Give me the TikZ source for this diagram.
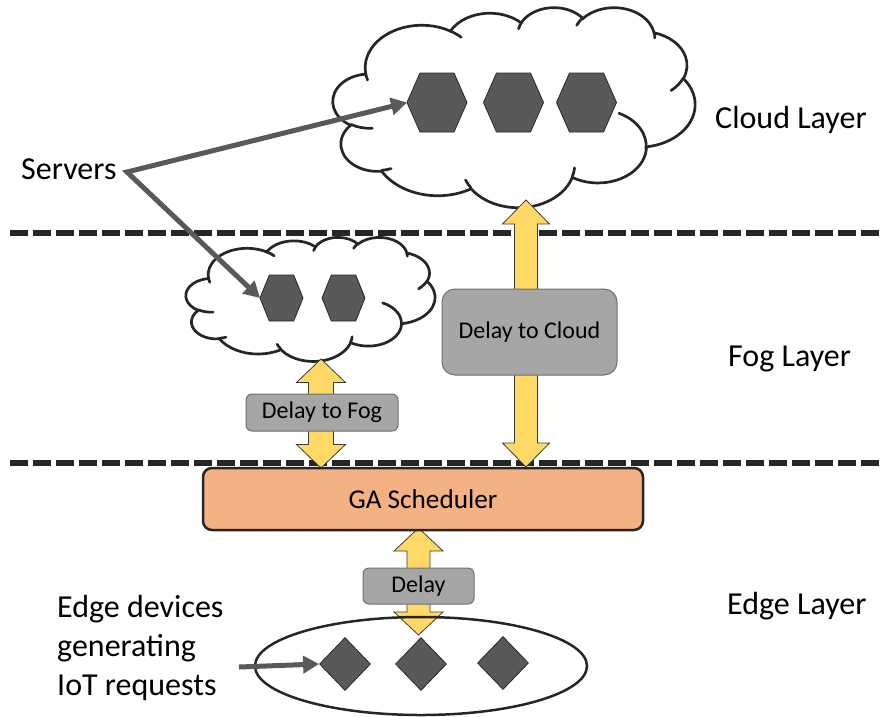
\documentclass[tikz,border=0pt]{standalone}
\usepackage{fontspec}
\setmainfont{Carlito}
\usetikzlibrary{shapes.geometric,arrows.meta}
\definecolor{dk}{HTML}{262626}
\definecolor{srv}{HTML}{595959}
\definecolor{yel}{HTML}{FFD966}
\definecolor{gbox}{HTML}{A6A6A6}
\definecolor{gboxb}{HTML}{6E6E6E}
\definecolor{ora}{HTML}{F4B183}
\tikzset{
  layerline/.style={draw=dk, line width=5.5pt, dash pattern=on 18pt off 5pt},
  cloudline/.style={draw=dk, line width=2.7pt, line cap=round},
  hexshape/.style={fill=srv, draw=dk, line width=0.8pt},
  devshape/.style={diamond, fill=srv, draw=dk, line width=0.8pt, minimum width=51pt, minimum height=53pt, inner sep=0pt},
  dblarrow/.style={fill=yel, draw=dk!90, line width=0.8pt, line join=miter},
  delaybox/.style={fill=gbox, draw=gboxb, line width=1pt, font=\fontsize{24}{29}\selectfont, text=black},
  schedbox/.style={fill=ora, draw=dk, line width=2.5pt, rounded corners=9pt, font=\fontsize{27.2}{32}\selectfont, text=black},
  bigtext/.style={font=\fontsize{32}{39}\selectfont, text=black, inner sep=0pt},
  ptr/.style={draw=srv, line width=5pt, line join=miter},
}
\makeatletter
% name, wR, hR, start angle (geometric), sweep
\newcommand\defarc[5]{%
  \pgfmathsetmacro\ca@ta{atan2((#2)*sin(#4),(#3)*cos(#4))}%
  \pgfmathsetmacro\ca@tb{atan2((#2)*sin(#4+#5),(#3)*cos(#4+#5))}%
  \pgfmathsetmacro\ca@d{mod(\ca@tb-\ca@ta+720,360)}%
  \pgfmathsetmacro\ca@te{\ca@ta+\ca@d}%
  \expandafter\xdef\csname cldarc#1\endcsname{arc[x radius=#2, y radius=#3, start angle=\ca@ta, end angle=\ca@te]}%
}
\makeatother
\defarc{A}{67.53}{91.90}{-190.48748}{123.78053}
\defarc{B}{53.33}{72.67}{-144.10238}{89.94523}
\defarc{C}{43.65}{59.45}{-145.80792}{99.72302}
\defarc{D}{48.57}{65.95}{-130.98607}{117.24173}
\defarc{E}{53.33}{72.73}{-78.70888}{109.02692}
\defarc{F}{67.75}{92.20}{-46.26725}{130.269}
\defarc{G}{57.85}{78.67}{0.62502}{114.03333}
\defarc{H}{67.52}{92.15}{22.4516}{115.17255}
\defarc{I}{77.20}{105.43}{66.24263}{75.71102}
\defarc{J}{43.60}{59.18}{-274.94208}{146.73557}
\defarc{K}{43.45}{59.45}{-246.8285}{152.51885}
\defarc{L}{43.45}{59.45}{86.742}{26.4295}
\defarc{M}{43.60}{59.18}{73.6105}{11.4475}
\defarc{N}{67.52}{92.15}{137.6242}{14.0811}
\defarc{O}{67.52}{92.15}{6.4533}{15.9984}
\defarc{P}{57.85}{78.67}{-70.2924}{77.029}
\defarc{Q}{53.33}{72.73}{30.3180}{27.7515}
\defarc{R}{48.57}{65.95}{-13.7443}{14.8507}
\defarc{S}{48.57}{65.95}{-149.1815}{18.1954}
\defarc{T}{43.65}{59.45}{-163.4943}{17.6864}
\defarc{U}{67.53}{91.90}{-66.7070}{12.3194}
\defarc{V}{67.53}{91.90}{157.6544}{11.8582}
\newcommand\drawcloud{%
  \draw[cloudline, fill=white] (39,143.7) \cldarcA \cldarcB \cldarcC \cldarcD \cldarcE \cldarcF \cldarcG \cldarcH \cldarcI \cldarcJ \cldarcK -- cycle;
  \draw[cloudline] (46.93,261.77) \cldarcL (69.28,348.99) \cldarcM (164.78,390.90) \cldarcN (288.27,347.51) \cldarcO (341.29,229.54) \cldarcP (417.98,153.54) \cldarcQ (383.24,54.26) \cldarcR (290.78,39.52) \cldarcS (221.41,47.20) \cldarcT (140.00,51.92) \cldarcU (41.27,157.89) \cldarcV;
}
\newcommand\hexa[5]{% name, cx, cy, halfwidth, halfheight
  \draw[hexshape] (#2-#4,#3) -- (#2-0.567*#4,#3-#5) -- (#2+0.567*#4,#3-#5) -- (#2+#4,#3) -- (#2+0.567*#4,#3+#5) -- (#2-0.567*#4,#3+#5) -- cycle;
  \coordinate (#1) at (#2-#4,#3);
}
\newcommand\dbl[6]{% cx, ytop, ybot, shafthalf, headhalf, headlen
  \draw[dblarrow] (#1,#2) -- (#1+#5,#2+#6) -- (#1+#4,#2+#6) -- (#1+#4,#3-#6) -- (#1+#5,#3-#6) -- (#1,#3) -- (#1-#5,#3-#6) -- (#1-#4,#3-#6) -- (#1-#4,#2+#6) -- (#1-#5,#2+#6) -- cycle;
}
\begin{document}
\begin{tikzpicture}[x=1pt,y=-1pt]
\useasboundingbox (0,0) rectangle (880,716);
% layer lines
\coordinate (l1a) at (10,233); \coordinate (l1b) at (880,233);
\coordinate (l2a) at (10,463); \coordinate (l2b) at (880,463);
\draw[layerline] (l1a) -- (l1b);
\draw[layerline] (l2a) -- (l2b);
% clouds
\begin{scope}[shift={(333,7)}, xscale=362/432, yscale=200/432]
  \drawcloud
\end{scope}
\begin{scope}[shift={(186,237)}, xscale=249/432, yscale=124/432]
  \drawcloud
\end{scope}
% hexagons
\hexa{h1}{437}{102.5}{30}{29.5}
\hexa{h2}{513.5}{102.5}{30}{29.5}
\hexa{h3}{586.5}{102.5}{30}{29.5}
\hexa{f1}{281.5}{298}{21.5}{23}
\hexa{f2}{343.5}{298}{21.5}{23}
% yellow double arrows
\dbl{526}{200}{467}{11.5}{23.5}{24}
\dbl{321}{359}{468}{12.5}{24.5}{23.5}
\dbl{418.5}{528}{635}{11.5}{24.5}{23}
% boxes
\node[delaybox, rounded corners=13pt, minimum width=175pt, minimum height=86pt] (dcloud) at (529.5,332) {Delay to Cloud};
\node[delaybox, rounded corners=6pt, minimum width=152pt, minimum height=37pt] (dfog) at (322,412.5) {Delay to Fog};
\node[delaybox, rounded corners=6pt, minimum width=111pt, minimum height=36pt] (dedge) at (418.5,586) {Delay};
\node[schedbox, minimum width=440pt, minimum height=62pt] (sched) at (423,499) {GA Scheduler};
% edge ellipse and devices
\node[ellipse, draw=dk, line width=2.5pt, minimum width=332pt, minimum height=98pt, inner sep=0pt] (edge) at (421,666) {};
\node[devshape] (d1) at (345,664) {};
\node[devshape] (d2) at (421,664) {};
\node[devshape] (d3) at (503,663) {};
% labels
\node[bigtext, anchor=base west] (servers) at (21,179) {Servers};
\node[bigtext, anchor=base west] (cl) at (715,128) {Cloud Layer};
\node[bigtext, anchor=base west] (fl) at (728,366) {Fog Layer};
\node[bigtext, anchor=base west] (el) at (727,614) {Edge Layer};
\node[bigtext, anchor=base west] (ed1) at (57,617) {Edge devices};
\node[bigtext, anchor=base west] (ed2) at (57,656) {generating};
\node[bigtext, anchor=base west] (ed3) at (57,695) {IoT requests};
% pointers
\coordinate (sv) at (127,172);
\draw[ptr, {Triangle[length=16pt,width=17pt]}-{Triangle[length=16pt,width=17pt]}] (h1) -- (sv) -- (f1);
\coordinate (evs) at (239,667);
\draw[ptr, -{Triangle[length=16pt,width=17pt]}] (evs) -- (d1.west);
\end{tikzpicture}
\end{document}
